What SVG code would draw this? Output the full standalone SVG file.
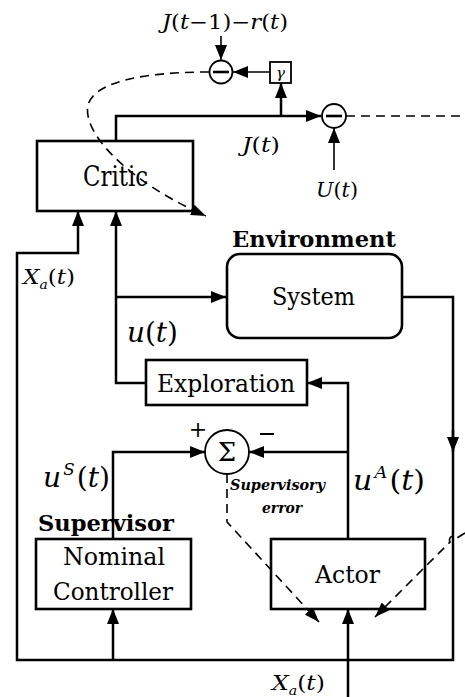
<svg xmlns="http://www.w3.org/2000/svg" width="465" height="697" viewBox="0 0 465 697" font-family="DejaVu Serif, serif">
<style>
.ln{fill:none;stroke:#000;stroke-width:2.5}
.th{fill:none;stroke:#000;stroke-width:1.6}
.ds{fill:none;stroke:#000;stroke-width:1.6;stroke-dasharray:9 6}
.bx{fill:#fff;stroke:#000;stroke-width:2.6}
.m{font-style:italic}
.u{font-style:normal}
</style>
<defs>
<marker id="a" markerWidth="15" markerHeight="12" refX="15" refY="6" orient="auto" markerUnits="userSpaceOnUse"><path d="M0,0 L15,6 L0,12 z" fill="#000"/></marker>
<marker id="d" markerWidth="15" markerHeight="11" refX="15" refY="5.5" orient="auto" markerUnits="userSpaceOnUse"><path d="M0,0 L15,5.5 L0,11 z" fill="#000"/></marker>
</defs>
<rect width="465" height="697" fill="#fff"/>
<g id="critic">
<rect class="bx" x="37" y="141" width="156" height="70"/>
<text x="83" y="186" font-size="27" textLength="65" lengthAdjust="spacingAndGlyphs">Critic</text>
</g>
<g id="sub1">
<circle cx="221" cy="72" r="11.5" fill="#fff" stroke="#000" stroke-width="1.8"/>
<path d="M213,72 H229" stroke="#000" stroke-width="2.6"/>
</g>
<g id="gamma">
<rect x="270" y="62" width="21" height="21" fill="#fff" stroke="#000" stroke-width="1.8"/>
<text class="m" x="280.5" y="78" font-size="15" text-anchor="middle">γ</text>
</g>
<g id="sub2">
<circle cx="334" cy="116" r="12" fill="#fff" stroke="#000" stroke-width="1.8"/>
<path d="M326,116 H342" stroke="#000" stroke-width="2.6"/>
</g>
<g id="system">
<text x="232" y="247" font-size="23" font-weight="bold" textLength="164" lengthAdjust="spacingAndGlyphs">Environment</text>
<rect class="bx" x="227" y="254" width="175" height="84" rx="13"/>
<text x="272" y="305" font-size="25" textLength="83" lengthAdjust="spacingAndGlyphs">System</text>
</g>
<g id="exploration">
<rect class="bx" x="146" y="360" width="161" height="45"/>
<text x="157" y="392" font-size="25" textLength="138" lengthAdjust="spacingAndGlyphs">Exploration</text>
</g>
<g id="sum">
<circle cx="227" cy="452" r="22" fill="#fff" stroke="#000" stroke-width="1.8"/>
<text x="227" y="461" font-size="26" text-anchor="middle">Σ</text>
<text x="198" y="437" font-size="22" text-anchor="middle">+</text>
<path d="M260,434 H274" stroke="#000" stroke-width="2"/>
</g>
<g id="nominal">
<text x="38" y="531" font-size="22" font-weight="bold" textLength="136" lengthAdjust="spacingAndGlyphs">Supervisor</text>
<rect class="bx" x="36" y="539" width="155" height="70"/>
<text x="63" y="565" font-size="25" textLength="102" lengthAdjust="spacingAndGlyphs">Nominal</text>
<text x="53" y="600" font-size="25" textLength="120" lengthAdjust="spacingAndGlyphs">Controller</text>
</g>
<g id="actor">
<rect class="bx" x="271" y="539" width="154" height="70"/>
<text x="315" y="583" font-size="25" textLength="65" lengthAdjust="spacingAndGlyphs">Actor</text>
</g>
<g id="labels">
<text class="m" x="162" y="29" font-size="20" textLength="126" lengthAdjust="spacingAndGlyphs">J<tspan class="u">(</tspan>t<tspan class="u">−1)−</tspan>r<tspan class="u">(</tspan>t<tspan class="u">)</tspan></text>
<text class="m" x="242" y="152" font-size="20" textLength="38" lengthAdjust="spacingAndGlyphs">J<tspan class="u">(</tspan>t<tspan class="u">)</tspan></text>
<text class="m" x="316" y="197" font-size="20" textLength="42" lengthAdjust="spacingAndGlyphs">U<tspan class="u">(</tspan>t<tspan class="u">)</tspan></text>
<text class="m" x="23" y="284" font-size="20" textLength="52" lengthAdjust="spacingAndGlyphs">X<tspan font-size="12" dy="5">a</tspan><tspan class="u" dy="-5">(</tspan>t<tspan class="u">)</tspan></text>
<text class="m" x="127" y="342" font-size="27" textLength="51" lengthAdjust="spacingAndGlyphs">u<tspan class="u">(</tspan>t<tspan class="u">)</tspan></text>
<text class="m" x="43" y="487" font-size="27" textLength="67" lengthAdjust="spacingAndGlyphs">u<tspan font-size="16" dy="-12" dx="2">S</tspan><tspan class="u" dy="12" dx="2">(</tspan>t<tspan class="u">)</tspan></text>
<text class="m" x="353" y="490" font-size="27" textLength="72" lengthAdjust="spacingAndGlyphs">u<tspan font-size="16" dy="-12" dx="2">A</tspan><tspan class="u" dy="12" dx="2">(</tspan>t<tspan class="u">)</tspan></text>
<text x="230" y="490" font-size="14" font-weight="bold" font-style="italic" textLength="95" lengthAdjust="spacingAndGlyphs">Supervisory</text>
<text x="262" y="513" font-size="14" font-weight="bold" font-style="italic" textLength="40" lengthAdjust="spacingAndGlyphs">error</text>
<text class="m" x="272" y="690" font-size="20" textLength="53" lengthAdjust="spacingAndGlyphs">X<tspan font-size="12" dy="5">a</tspan><tspan class="u" dy="-5">(</tspan>t<tspan class="u">)</tspan></text>
</g>
<g id="connectors">
<path class="ln" d="M116,141 V116 H321" marker-end="url(#a)"/>
<path class="ln" d="M281,116 V83" marker-end="url(#a)"/>
<path class="th" d="M270,72 H233" marker-end="url(#a)"/>
<path class="th" d="M221,36 V60" marker-end="url(#a)"/>
<path class="th" d="M334,170 V128" marker-end="url(#a)"/>
<path class="ds" d="M346,116 H465"/>
<path class="ds" d="M209,72 C150,72 95,80 88,105 C82,132 125,180 206,216" marker-end="url(#d)"/>
<path class="ln" d="M402,297 H453 V660 H17 V253 H78 V211" marker-end="url(#a)"/>
<path class="ln" d="M453,430 V452" marker-end="url(#a)"/>
<path class="ln" d="M146,383 H116 V211" marker-end="url(#a)"/>
<path class="ln" d="M116,297 H226" marker-end="url(#a)"/>
<path class="ln" d="M348,539 V383 H307" marker-end="url(#a)"/>
<path class="ln" d="M348,452 H249" marker-end="url(#a)"/>
<path class="ln" d="M113,539 V452 H205" marker-end="url(#a)"/>
<path class="ln" d="M113,660 V609" marker-end="url(#a)"/>
<path class="ln" d="M348,697 V609" marker-end="url(#a)"/>
<path class="ds" d="M227,474 V522 L319,622" marker-end="url(#d)"/>
<path class="ds" d="M465,533 L457,538 A4,4 0 0 0 450,542 L375,617" marker-end="url(#d)"/>
</g>
</svg>
